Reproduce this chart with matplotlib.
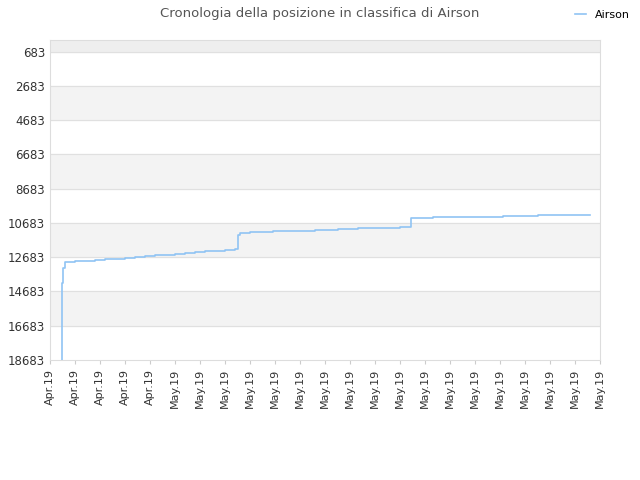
import matplotlib.pyplot as plt

tick_labels = ["Apr.19"] * 5 + ["May.19"] * 18
# step data: x in tick units, y = position
xs = [0.48, 0.48, 0.5, 0.52, 0.6, 1.0, 1.4, 1.8, 2.2, 2.6, 3.0, 3.4, 3.8, 4.2, 4.6, 5.0,
      5.4, 5.8, 6.2, 6.6, 7.0, 7.4, 7.52, 7.6, 8.0, 8.9, 9.7, 10.6, 11.5,
      12.3, 13.2, 14.0, 14.45, 14.5, 15.3, 16.7, 18.1, 19.5, 20.9, 21.6]
ys = [18683, 15100, 14200, 13300, 12950, 12920, 12880, 12840, 12800, 12760, 12720,
      12670, 12620, 12580, 12540, 12490, 12440, 12390, 12350, 12300, 12250, 12200,
      11400, 11250, 11220, 11180, 11130, 11090, 11050, 11000, 10960,
      10900, 10420, 10400, 10350, 10320, 10280, 10240, 10200, 10200]

fig, ax = plt.subplots(figsize=(6.4, 4.8), dpi=100)
fig.subplots_adjust(left=0.078, right=0.938, top=0.917, bottom=0.25)
ax.axhspan(0, 683, color="#eeeeee", zorder=0)
for i, lo in enumerate(range(683, 18683, 2000)):
    if i % 2 == 1:
        ax.axhspan(lo, lo + 2000, color="#f3f3f3", zorder=0)
    ax.axhline(lo, color="#e0e0e0", lw=0.8, zorder=1)
ax.step(xs, ys, where="post", color="#90c4f4", lw=1.2, label="Airson", zorder=3)
ax.set_ylim(18683, 0)
ax.set_xlim(0, 22)
ax.set_yticks(range(683, 18684, 2000))
ax.set_xticks(range(23))
ax.set_xticklabels(tick_labels, rotation=90, fontsize=8, color="#333333")
ax.tick_params(axis="y", labelsize=8.5, colors="#333333", length=0)
ax.tick_params(axis="x", length=3, color="#cccccc")
for s in ax.spines.values():
    s.set_color("#dddddd")
fig.suptitle("Cronologia della posizione in classifica di Airson", fontsize=9.5, color="#555555", y=0.985)
fig.legend(loc="upper right", bbox_to_anchor=(1.0, 1.0), frameon=False, fontsize=8, handlelength=1)
fig.savefig("out.png")
